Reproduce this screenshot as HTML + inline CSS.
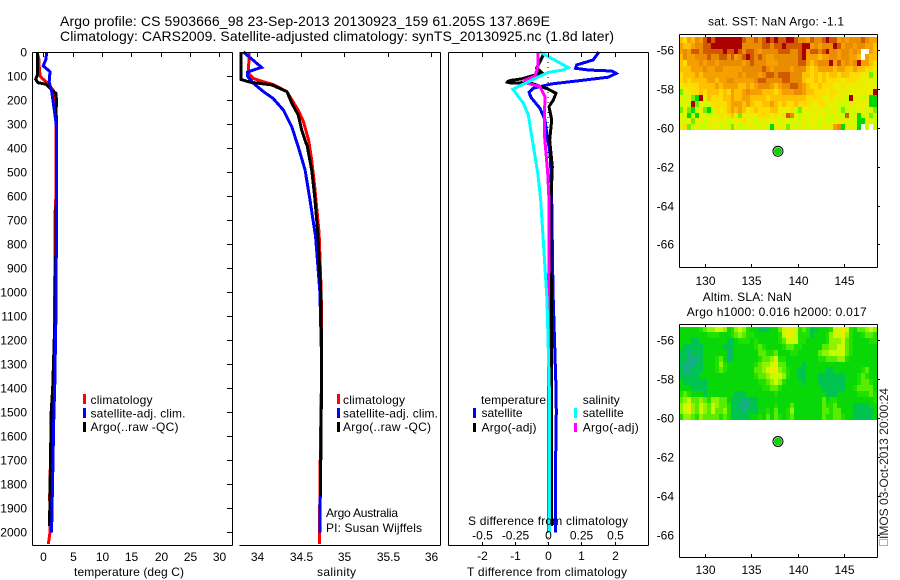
<!DOCTYPE html>
<html>
<head>
<meta charset="utf-8">
<title>Argo profile</title>
<style>
html,body{margin:0;padding:0;background:#fff;}
svg{display:block;font-family:"Liberation Sans",sans-serif;font-size:12px;fill:#000;}
.ln{fill:none;stroke-linejoin:miter;shape-rendering:crispEdges;}
.ax{stroke:#000;stroke-width:1;fill:none;shape-rendering:crispEdges;}
</style>
</head>
<body>
<svg id="chart" xmlns="http://www.w3.org/2000/svg" width="900" height="580" viewBox="0 0 900 580">
<rect x="0" y="0" width="900" height="580" fill="#fff"/>
<text x="60" y="26" font-size="14" textLength="490" lengthAdjust="spacing">Argo profile: CS 5903666_98 23-Sep-2013 20130923_159 61.205S 137.869E</text>
<text x="60" y="41" font-size="14" textLength="554" lengthAdjust="spacing">Climatology: CARS2009. Satellite-adjusted climatology: synTS_20130925.nc (1.8d later)</text>

<g id="layer-heat"></g>
<g id="layer-lines"></g>
<g id="layer-axes"></g>

<text x="74" y="576" textLength="110" lengthAdjust="spacing">temperature (deg C)</text>
<text x="317" y="576" textLength="39" lengthAdjust="spacing">salinity</text>
<text x="467" y="576" textLength="160" lengthAdjust="spacing">T difference from climatology</text>
<text x="468" y="525" textLength="160" lengthAdjust="spacing">S difference from climatology</text>

<g>
<rect x="83" y="394" width="3" height="10" fill="#f00"/>
<rect x="83" y="408" width="3" height="10" fill="#00f"/>
<rect x="83" y="422" width="3" height="10" fill="#000"/>
<text x="90.5" y="404" textLength="62" lengthAdjust="spacing">climatology</text>
<text x="90.5" y="417.5" textLength="95" lengthAdjust="spacing">satellite-adj. clim.</text>
<text x="90.5" y="431" textLength="88" lengthAdjust="spacing">Argo(..raw -QC)</text>
</g>
<g>
<rect x="337" y="394" width="3" height="10" fill="#f00"/>
<rect x="337" y="408" width="3" height="10" fill="#00f"/>
<rect x="337" y="422" width="3" height="10" fill="#000"/>
<text x="343" y="404" textLength="62" lengthAdjust="spacing">climatology</text>
<text x="343" y="417.5" textLength="95" lengthAdjust="spacing">satellite-adj. clim.</text>
<text x="343" y="431" textLength="88" lengthAdjust="spacing">Argo(..raw -QC)</text>
<text x="326" y="517" textLength="72" lengthAdjust="spacing">Argo Australia</text>
<text x="326" y="532" textLength="96" lengthAdjust="spacing">PI: Susan Wijffels</text>
</g>
<g>
<text x="481" y="404" textLength="65" lengthAdjust="spacing">temperature</text>
<rect x="473" y="408" width="3" height="10" fill="#00f"/>
<rect x="473" y="423" width="3" height="9" fill="#000"/>
<text x="481.5" y="417" textLength="41" lengthAdjust="spacing">satellite</text>
<text x="481.5" y="431.5" textLength="55" lengthAdjust="spacing">Argo(-adj)</text>
<text x="582.7" y="404" textLength="37" lengthAdjust="spacing">salinity</text>
<rect x="574" y="408" width="3" height="10" fill="#0ff"/>
<rect x="574" y="423" width="3" height="9" fill="#f0f"/>
<text x="582.7" y="417" textLength="41" lengthAdjust="spacing">satellite</text>
<text x="582.7" y="431.5" textLength="56" lengthAdjust="spacing">Argo(-adj)</text>
</g>

<text x="708" y="25.5" textLength="136" lengthAdjust="spacing">sat. SST: NaN Argo: -1.1</text>
<text x="702.7" y="301" textLength="89" lengthAdjust="spacing">Altim. SLA: NaN</text>
<text x="686.7" y="316" textLength="180" lengthAdjust="spacing">Argo h1000: 0.016 h2000: 0.017</text>
<rect x="879.5" y="539.5" width="8" height="6" fill="none" stroke="#666" stroke-width="1" stroke-dasharray="1 1" shape-rendering="crispEdges"/>
<text transform="translate(888,539) rotate(-90)" fill="#222" textLength="151" lengthAdjust="spacing">IMOS 03-Oct-2013 20:00:24</text>
</svg>

<script>
/* ---------- axis ticks ---------- */
const depthTicks = [0,100,200,300,400,500,600,700,800,900,1000,1100,1200,1300,1400,1500,1600,1700,1800,1900,2000];
const tempTicks = [0,5,10,15,20,25,30];
const salTicks = [34,34.5,35,35.5,36];
const tDiffTicks = [-2,-1,0,1,2];
const sDiffTicks = [-0.5,-0.25,0,0.25,0.5];
const sDiffLabels = ['-0.5','-0.25','0','0.25','0.5'];
const lonTicks = [130,135,140,145];
const latTicks = [-56,-58,-60,-62,-64,-66];

/* ---------- temperature profiles (deg C) ---------- */
const climTempDepths = [0,30,60,100,112,125,160,190,280,600,680,1200,1400,1500,1650,1850,2000,2050];
const climTempValues = [-1.05,-0.75,-0.7,-0.55,-0.1,0.55,1.7,2,2.15,2.15,2.0,1.9,1.75,1.43,1.26,1.09,1.15,0.85];
const satTempDepths = [0,30,58,82,124,165,242,311,700,1100,1400,1500,1700,1950,2003];
const satTempValues = [0.58,0.45,0,1.14,1.0,1.43,1.87,2.25,2.25,2.15,1.95,1.8,1.65,1.45,1.4];
const argoTempDepths = [0,96,114,128,134,165,172,213,242,295,700,1100,1400,1500,1900,1974];
const argoTempValues = [-1.0,-1.0,-1.3,-0.9,0.45,1.7,2.16,2.27,2.16,2.27,2.2,2.0,1.6,1.35,1.1,1.05];

/* ---------- salinity profiles ---------- */
const climSalDepths = [0,89,110,124,135,165,207,242,290,367,450,561,755,1000,1300,1800,2050];
const climSalValues = [33.908,33.897,33.954,34.07,34.18,34.34,34.41,34.47,34.53,34.59,34.625,34.66,34.71,34.735,34.74,34.72,34.715];
const satSalDepths = [0,64,75,85,100,130,165,193,242,311,394,492,617,770,1000,1300,1800,2003];
const satSalValues = [33.84,34.05,33.954,33.885,33.885,33.954,34.07,34.18,34.3,34.395,34.47,34.55,34.606,34.67,34.72,34.74,34.725,34.72];
const argoSalDepths = [0,114,126,137,165,213,262,325,394,492,603,755,1000,1300,1850];
const argoSalValues = [33.81,33.81,33.916,34.165,34.34,34.395,34.47,34.51,34.575,34.625,34.66,34.695,34.73,34.74,34.725];

/* ---------- differences from climatology ---------- */
const satTDiffDepths = [0,33,54,68,75,79,89,105,120,133,151,168,189,235,283,338,421,504,617,1000,1400,1500,1800,2003];
const satTDiffValues = [1.53,1.36,0.86,0.83,1.21,1.92,2.05,1.81,0.91,0.11,-0.44,-0.57,-0.51,-0.24,-0.09,-0.04,0.06,0.09,0.11,0.15,0.24,0.25,0.22,0.22];
const argoTDiffDepths = [12,40,67,85,96,112,118,122,126,130,128,131,155,172,200,228,283,367,478,617,1000,1500,1974];
const argoTDiffValues = [-0.14,-0.24,-0.34,-0.19,-0.39,-0.79,-1.1,-1.2,-1.22,-1.1,-0.8,-0.49,0.01,0.24,0.16,0.03,0.11,0.05,0.13,0.09,0.1,0.1,0.1];
const argoSDiffDepths = [0,61,100,117,133,144,186,338,505,617,1000,1500,1900,2003];
const argoSDiffValues = [-0.077,-0.077,-0.098,-0.173,-0.135,-0.06,-0.023,-0.028,-0.002,0.0075,0.005,0.004,0.003,0.003];
const satSDiffDepths = [0,65,75,85,117,155,213,262,394,505,617,1033,1400,2003];
const satSDiffValues = [-0.06,0.153,0.115,0,-0.122,-0.265,-0.186,-0.148,-0.11,-0.077,-0.055,-0.0075,0.01,0.01];
const zeroLineDepths = [0,2054];
const zeroLineValues = [0,0];

/* ---------- float position ---------- */
const argoLon = 137.869;
const argoLat = -61.205;

/* ---------- map grids: first cell edge and step in degrees ---------- */
const gridLonStart = 127.2;
const gridLonStep = 0.427;
const gridLatStart = -55.31;
const gridLatStep = -0.3;

/* satellite SST, colour level 0-9, -1 = no data */
const sstGrid = [
[5,4,6,5,7,6,8,9,8,9,9,9,9,9,9,9,8,7,7,8,7,8,9,8,9, 8,8,9,9,8,7,7,6,8,7,7,8,9,8,8,6,7,6,7,7,7,8,7,6,6],
[6,5,5,6,7,7,8,8,9,9,9,9,9,9,9,9,7,7,7,7,7,8,8,7,8, 8,9,8,8,8,8,9,9,6,7,6,7,7,7,9,8,6,7,7,6,7,7,6,6,5],
[6,7,6,8,8,7,8,8,8,8,8,9,8,8,9,8,7,8,8,7,6,7,7,7,7, 8,8,8,7,7,8,9,6,8,8,7,8,9,7,7,6,7,7,6,7,6,-1,-1,6,5],
[5,7,6,6,7,7,7,8,7,7,8,8,7,8,6,7,8,9,8,7,8,7,6,6,7, 7,7,7,7,7,8,9,6,6,6,5,6,6,7,7,6,7,7,6,6,5,-1,6,5,5],
[5,4,6,6,6,7,6,7,7,6,7,7,7,7,7,7,6,7,8,7,7,7,6,6,6, 7,7,7,7,7,8,8,6,5,6,7,7,7,9,6,8,6,7,6,7,9,6,6,5,4],
[5,5,5,6,6,6,7,6,6,7,7,6,6,6,6,6,7,7,7,7,7,8,7,6,7, 7,7,7,6,7,7,7,5,4,5,6,6,6,6,5,6,6,5,5,6,5,5,4,4,3],
[4,5,5,5,6,5,6,6,6,6,6,6,6,6,6,7,6,7,7,7,6,7,8,8,7, 8,8,8,7,7,7,5,5,4,5,4,5,4,5,5,4,5,5,4,4,4,3,3,1,3],
[4,5,4,5,5,5,5,6,6,5,6,6,7,7,6,6,6,6,6,7,8,8,7,7,7, 7,8,8,7,7,7,5,4,4,5,4,5,4,4,4,4,3,4,4,4,3,3,3,3,2],
[3,4,4,4,4,5,5,5,5,6,5,6,6,6,6,5,5,6,5,6,7,7,7,6,5, 6,7,7,8,8,7,6,5,4,4,5,4,4,4,3,3,4,3,3,3,3,3,3,3,3],
[1,3,3,4,4,5,4,5,5,5,4,5,4,6,5,5,6,7,6,6,6,5,5,5,4, 5,6,6,6,7,7,6,5,5,4,4,4,3,4,4,3,3,3,3,3,3,3,3,3,9],
[3,2,3,1,0,9,3,5,4,4,4,5,5,6,5,5,6,6,5,5,5,5,4,5,5, 5,5,5,5,5,5,5,4,4,4,4,3,3,4,3,3,3,2,9,3,3,2,3,0,0],
[2,3,2,9,1,3,2,2,4,4,4,4,5,6,6,6,5,6,5,4,4,5,5,6,5, 4,5,4,4,5,4,4,4,3,3,4,4,3,3,3,2,2,2,3,3,3,3,3,0,0],
[1,3,1,0,2,3,1,0,2,4,3,4,5,6,5,6,5,3,4,5,4,4,4,5,5, 3,3,3,4,2,1,3,3,3,3,3,3,2,3,3,2,1,2,3,2,3,3,2,3,1],
[3,2,0,2,0,3,3,2,3,3,4,3,4,5,3,1,3,3,3,3,4,4,4,3,4, 3,4,8,7,3,2,3,2,3,3,3,3,3,2,3,2,2,8,2,3,0,2,3,1,2],
[3,2,3,1,3,3,2,3,3,3,3,3,2,3,3,3,4,3,3,2,3,3,3,3,3, 2,3,3,2,3,2,3,3,3,3,2,3,2,2,3,3,3,2,3,2,0,0,3,2,2],
[3,4,1,2,3,2,2,3,3,3,2,3,2,1,3,2,2,3,3,3,2,3,2,0,3, 3,3,1,3,2,3,3,2,3,3,2,3,3,3,6,7,0,3,3,2,0,-1,2,-1,2]
];

/* altimeter SLA, colour level 0-7 */
const slaGrid = [
[2,2,2,2,2,3,4,5,5,6,6,5,2,3,5,6,5,3,2,2,1,1,1,2,2, 4,6,7,7,6,3,4,3,1,1,2,2,2,3,6,7,7,6,3,2,4,4,5,6,5],
[2,2,2,2,2,2,2,3,3,3,2,2,2,3,4,5,4,3,3,2,2,2,2,2,2, 3,6,7,7,6,3,3,3,1,2,2,2,3,5,6,6,7,5,3,2,2,3,4,4,3],
[2,2,2,1,1,2,2,2,2,2,2,2,1,1,2,3,3,3,2,3,2,2,2,2,2, 3,4,6,6,6,3,3,2,2,2,2,2,3,5,5,5,6,4,3,2,2,2,2,3,3],
[2,1,1,1,1,1,2,2,2,2,2,1,1,1,2,2,2,2,2,3,4,3,2,2,2, 2,3,4,4,3,3,2,2,2,2,2,4,4,5,5,6,6,4,3,2,2,2,2,2,2],
[1,1,0,1,1,1,2,2,2,2,2,2,0,1,2,2,2,2,2,2,4,4,3,3,4, 2,2,2,3,3,2,2,2,2,2,4,5,5,6,6,6,6,4,3,2,2,2,2,2,2],
[1,1,0,0,0,1,2,2,2,3,4,2,0,1,2,2,2,2,2,2,3,4,4,5,6, 3,3,2,2,2,2,2,2,2,2,3,3,4,4,4,5,5,3,2,2,2,2,2,2,2],
[1,0,0,0,1,1,2,2,2,3,5,3,2,2,2,2,2,2,2,3,4,5,5,6,7, 4,4,2,2,2,2,1,2,2,2,2,2,2,2,2,2,2,2,2,2,2,2,2,2,2],
[1,0,0,1,1,1,2,2,2,3,4,3,2,2,2,2,2,2,2,4,4,5,6,7,7, 5,4,3,2,2,1,1,2,2,2,2,2,1,1,2,2,2,2,2,2,2,3,4,2,2],
[1,1,1,1,1,2,2,2,2,2,2,2,2,2,2,2,2,2,2,3,4,4,5,6,6, 6,5,3,2,2,1,1,2,2,2,1,1,1,1,1,1,1,2,2,2,3,4,3,2,2],
[2,1,1,1,1,1,1,2,2,2,2,2,2,2,2,2,2,2,2,2,3,3,4,5,6, 5,3,2,2,2,2,1,2,2,2,1,1,1,1,1,1,1,2,2,2,3,4,4,3,2],
[2,2,2,1,1,1,1,2,2,2,2,2,2,2,2,2,2,2,2,2,2,3,3,4,4, 3,2,2,2,2,2,2,2,2,2,2,1,1,1,1,1,1,2,2,3,4,4,4,4,2],
[3,4,3,2,2,2,1,2,2,2,2,2,2,2,1,1,1,2,2,2,2,2,2,2,3, 2,2,2,2,2,2,2,2,2,2,2,2,1,1,1,2,2,2,2,2,3,3,3,4,3],
[4,5,6,4,4,5,4,3,5,5,4,4,2,1,1,1,0,0,1,1,2,2,2,2,2, 2,2,2,2,2,2,2,2,2,2,2,4,2,3,3,2,2,2,2,2,2,2,2,2,3],
[5,6,7,5,4,6,5,4,6,5,4,4,3,1,1,0,0,0,1,1,2,2,2,2,3, 2,2,2,4,2,2,2,2,2,2,2,4,3,3,4,2,2,2,2,1,1,1,1,2,2],
[5,6,7,5,4,6,5,4,6,4,4,5,3,1,1,1,0,1,1,1,2,2,3,2,4, 2,2,3,5,2,2,2,2,2,2,2,4,4,3,4,4,2,2,2,1,1,1,1,1,2],
[3,5,5,4,3,5,4,4,4,4,3,4,3,1,1,1,1,1,2,2,3,2,4,2,4, 3,2,3,4,2,2,2,2,2,2,2,4,3,3,4,4,3,2,2,1,1,1,1,1,2]
];

/* ---------- colour ramps ---------- */
const sstRamp = ['#00d800','#70f000','#c8ff00','#e8f000','#ffdc00','#ffc000','#f5a000','#ea8c00','#d05a00','#aa0000'];
const slaRamp = ['#14b082','#00c450','#08d808','#20e000','#58ec00','#90f400','#c8fa00','#e8f000'];

/* ---------- axis functions ---------- */
const NS = 'http://www.w3.org/2000/svg';
const yDepth = d => 52 + d * 0.24;
const xTemp = t => 43.3 + t * 5.87;
const xSal = s => 257.3 + (s - 34) * 87;
const xTDiff = t => 548 + t * 33.25;
const xSDiff = s => 548 + s * 133;
const xLon = lon => 705 + (lon - 130) * 9.27;
const ySst = lat => 50.3 + (-56 - lat) * 19.4;
const ySla = lat => 340 + (-56 - lat) * 19.5;

const layerHeat = document.getElementById('layer-heat');
const layerLines = document.getElementById('layer-lines');
const layerAxes = document.getElementById('layer-axes');

function mk(tag, attrs, parent) {
  const el = document.createElementNS(NS, tag);
  for (const k in attrs) el.setAttribute(k, attrs[k]);
  parent.appendChild(el);
  return el;
}

function drawProfile(depths, values, xFn, color, width, name, dash) {
  const pts = depths.map((d, i) => xFn(values[i]).toFixed(1) + ',' + yDepth(d).toFixed(1)).join(' ');
  const el = mk('polyline', {points: pts, class: 'ln', stroke: color, 'stroke-width': width}, layerLines);
  if (dash) el.setAttribute('stroke-dasharray', dash);
  
  
}

function drawAxisLine(x1, y1, x2, y2) {
  const el = mk('line', {x1: x1, y1: y1, x2: x2, y2: y2, class: 'ax'}, layerAxes);
  
  
}

function drawTick(x1, y1, x2, y2) {
  const el = mk('line', {x1: x1, y1: y1, x2: x2, y2: y2, class: 'ax'}, layerAxes);
  
  
}

function drawLabel(x, y, label, anchor) {
  const el = mk('text', {x: x, y: y, 'text-anchor': anchor}, layerAxes);
  el.textContent = label;
  
  
}

function drawGrid(grid, ramp, yFn, name) {
  grid.forEach((row, r) => {
    row.forEach((v, c) => {
      if (v < 0) return;
      const x0 = Math.round(xLon(gridLonStart + c * gridLonStep));
      const x1 = Math.round(xLon(gridLonStart + (c + 1) * gridLonStep));
      const y0 = Math.round(yFn(gridLatStart + r * gridLatStep));
      const y1 = Math.round(yFn(gridLatStart + (r + 1) * gridLatStep));
      const cell = mk('rect', {x: x0, y: y0, width: x1 - x0, height: y1 - y0, fill: ramp[v], 'shape-rendering': 'crispEdges'}, layerHeat);
      
      
    });
  });
}

function drawMarker(yFn) {
  const ring = mk('circle', {cx: xLon(argoLon), cy: yFn(argoLat), r: 5, fill: '#fff', stroke: '#000', 'stroke-width': 1}, layerAxes);
  
  
  const m = mk('circle', {cx: xLon(argoLon), cy: yFn(argoLat), r: 4, fill: '#10d010'}, layerAxes);
  
  
}

/* ---------- heatmaps ---------- */
drawGrid(sstGrid, sstRamp, ySst, 'sst-cell');
drawGrid(slaGrid, slaRamp, ySla, 'sla-cell');

/* ---------- profile lines ---------- */
drawProfile(climTempDepths, climTempValues, xTemp, '#f00', 3, 'temperature-climatology-line');
drawProfile(argoTempDepths, argoTempValues, xTemp, '#000', 3, 'temperature-argo-line');
drawProfile(satTempDepths, satTempValues, xTemp, '#00f', 3, 'temperature-satellite-line');
drawProfile(climSalDepths, climSalValues, xSal, '#f00', 3, 'salinity-climatology-line');
drawProfile(satSalDepths, satSalValues, xSal, '#00f', 3, 'salinity-satellite-line');
drawProfile(argoSalDepths, argoSalValues, xSal, '#000', 3, 'salinity-argo-line');
drawProfile(zeroLineDepths, zeroLineValues, xTDiff, '#000', 1, 'zero-difference-line', '1 4');
drawProfile(satTDiffDepths, satTDiffValues, xTDiff, '#00f', 3, 't-difference-satellite-line');
drawProfile(argoTDiffDepths, argoTDiffValues, xTDiff, '#000', 3, 't-difference-argo-line');
drawProfile(argoSDiffDepths, argoSDiffValues, xSDiff, '#f0f', 3, 's-difference-argo-line');
drawProfile(satSDiffDepths, satSDiffValues, xSDiff, '#0ff', 3, 's-difference-satellite-line');

/* ---------- panel frames ---------- */
/* temperature */
drawAxisLine(32.5, 52.5, 232.5, 52.5);
drawAxisLine(32.5, 545.5, 232.5, 545.5);
drawAxisLine(32.5, 52.5, 32.5, 545.5);
drawAxisLine(232.5, 52.5, 232.5, 545.5);
/* salinity */
drawAxisLine(239.5, 52.5, 440.5, 52.5);
drawAxisLine(239.5, 545.5, 440.5, 545.5);
drawAxisLine(440.5, 52.5, 440.5, 545.5);
/* differences */
drawAxisLine(448.5, 52.5, 648.5, 52.5);
drawAxisLine(448.5, 545.5, 648.5, 545.5);
drawAxisLine(448.5, 52.5, 448.5, 545.5);
drawAxisLine(648.5, 52.5, 648.5, 545.5);
/* maps */
[[34.5, 267.5], [324.5, 557.5]].forEach(b => {
  drawAxisLine(679.5, b[0], 877.5, b[0]);
  drawAxisLine(679.5, b[1], 877.5, b[1]);
  drawAxisLine(679.5, b[0], 679.5, b[1]);
  drawAxisLine(877.5, b[0], 877.5, b[1]);
});

/* ---------- ticks and labels ---------- */
depthTicks.forEach(d => {
  const y = Math.round(yDepth(d)) + 0.5;
  drawTick(227, y, 232, y);
  drawLabel(27, y + 4, String(d), 'end');
});
tempTicks.forEach(t => {
  const x = Math.round(xTemp(t)) + 0.5;
  drawTick(x, 52.5, x, 57);
  drawLabel(x, 561, String(t), 'middle');
});
salTicks.forEach(s => {
  const x = Math.round(xSal(s)) + 0.5;
  drawTick(x, 52.5, x, 57);
  drawLabel(x, 561, String(s), 'middle');
});
tDiffTicks.forEach(t => {
  const x = Math.round(xTDiff(t)) + 0.5;
  drawTick(x, 52.5, x, 57);
  drawLabel(x, 560, String(t), 'middle');
});
sDiffTicks.forEach((s, i) => {
  const x = Math.round(xSDiff(s)) + 0.5;
  drawTick(x, 545.5, x, 542);
  drawLabel(x, 539.5, sDiffLabels[i], 'middle');
});
lonTicks.forEach(lon => {
  const x = Math.round(xLon(lon)) + 0.5;
  drawTick(x, 34.5, x, 37);
  drawTick(x, 267.5, x, 264);
  drawLabel(x, 285, String(lon), 'middle');
  drawTick(x, 324.5, x, 327);
  drawTick(x, 557.5, x, 554);
  drawLabel(x, 574, String(lon), 'middle');
});
latTicks.forEach(lat => {
  const y1 = Math.round(ySst(lat)) + 0.5;
  drawTick(877.5, y1, 880, y1);
  drawLabel(674, y1 + 4, String(lat), 'end');
  const y2 = Math.round(ySla(lat)) + 0.5;
  drawTick(877.5, y2, 880, y2);
  drawLabel(674, y2 + 4, String(lat), 'end');
});

drawMarker(ySst);
drawMarker(ySla);
</script>
</body>
</html>
